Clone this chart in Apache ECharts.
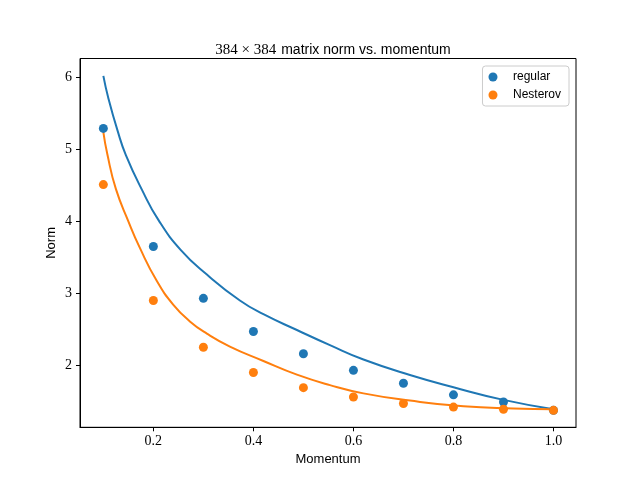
<!DOCTYPE html>
<html>
<head>
<meta charset="utf-8">
<script src="https://cdn.jsdelivr.net/npm/echarts/dist/echarts.min.js"></script>
<style>
  html, body { margin: 0; padding: 0; background: #fff; }
  #main { width: 640px; height: 480px; }
</style>
</head>
<body>
<div id="main"></div>
<script>
// measured points
var momentum = [0.1, 0.2, 0.3, 0.4, 0.5, 0.6, 0.7, 0.8, 0.9, 1.0];
var regularNorm = [5.29, 3.65, 2.93, 2.47, 2.16, 1.93, 1.75, 1.59, 1.49, 1.375];
var nesterovNorm = [4.51, 2.90, 2.25, 1.90, 1.69, 1.56, 1.47, 1.42, 1.39, 1.375];

// fitted curves
var regularFitX = [0.1, 0.11, 0.129, 0.145, 0.177, 0.21, 0.255, 0.307, 0.373, 0.42, 0.487, 0.553, 0.62, 0.713, 0.8, 0.9, 1.0];
var regularFitY = [6.02, 5.71, 5.245, 4.92, 4.44, 4.02, 3.60, 3.26, 2.90, 2.71, 2.49, 2.28, 2.08, 1.865, 1.695, 1.52, 1.39];
var nesterovFitX = [0.1, 0.108, 0.125, 0.15, 0.173, 0.207, 0.24, 0.273, 0.307, 0.353, 0.42, 0.487, 0.553, 0.62, 0.713, 0.82, 0.92, 1.0];
var nesterovFitY = [5.24, 4.93, 4.45, 4.00, 3.63, 3.17, 2.84, 2.61, 2.44, 2.26, 2.06, 1.87, 1.725, 1.61, 1.51, 1.43, 1.40, 1.39];

var xTicks = [0.2, 0.4, 0.6, 0.8, 1.0];
var yTicks = [2, 3, 4, 5, 6];

function pairs(xs, ys) {
    var out = [];
    for (var i = 0; i < xs.length; i++) {
        out.push([xs[i], ys[i]]);
    }
    return out;
}

var blue = '#1f77b4';
var orange = '#ff7f0e';
var serif = '"Liberation Serif", "DejaVu Serif", serif';
var sans = '"Liberation Sans", "DejaVu Sans", sans-serif';

var myChart = echarts.init(document.getElementById('main'));
var option = {
    animation: false,
    backgroundColor: '#fff',
    title: {
        text: '{m|384 × 384} {s|matrix norm vs. momentum}',
        left: 328,
        textAlign: 'center',
        top: 36,
        textStyle: {
            fontWeight: 'normal',
            rich: {
                m: { fontFamily: serif, fontSize: 15, fontWeight: 'normal', color: '#000' },
                s: { fontFamily: sans, fontSize: 14, fontWeight: 'normal', color: '#000' }
            }
        }
    },
    legend: {
        orient: 'vertical',
        right: 71,
        top: 66,
        padding: [5, 8, 5, 6],
        itemGap: 6,
        itemWidth: 26,
        itemHeight: 9,
        icon: 'circle',
        borderColor: '#cccccc',
        borderWidth: 1,
        borderRadius: 3,
        backgroundColor: '#fff',
        textStyle: { fontFamily: sans, fontSize: 12, color: '#000', padding: [0, 0, 0, 2] },
        data: ['regular', 'Nesterov']
    },
    grid: {
        left: 80,
        right: 64,
        top: 58.5,
        bottom: 52.7,
        show: true,
        borderColor: '#000',
        borderWidth: 1,
        containLabel: false,
        outerBoundsMode: 'none'
    },
    xAxis: {
        type: 'value',
        min: 0.0533,
        max: 1.045,
        name: 'Momentum',
        nameLocation: 'middle',
        nameGap: 26,
        nameMoveOverlap: false,
        nameTextStyle: { fontFamily: sans, fontSize: 13, color: '#000' },
        splitLine: { show: false },
        axisLine: { show: true, lineStyle: { color: '#000', width: 1 } },
        axisTick: { show: true, length: 4, lineStyle: { color: '#000' }, customValues: xTicks },
        axisLabel: {
            customValues: xTicks,
            margin: 7,
            fontFamily: serif,
            fontSize: 14,
            color: '#000',
            formatter: function (v) { return v.toFixed(1); }
        }
    },
    yAxis: {
        type: 'value',
        min: 1.139,
        max: 6.261,
        name: 'Norm',
        nameLocation: 'middle',
        nameGap: 22,
        nameMoveOverlap: false,
        nameTextStyle: { fontFamily: sans, fontSize: 13, color: '#000' },
        splitLine: { show: false },
        axisLine: { show: true, lineStyle: { color: '#000', width: 1 } },
        axisTick: { show: true, length: 4, lineStyle: { color: '#000' }, customValues: yTicks },
        axisLabel: {
            customValues: yTicks,
            margin: 8,
            fontFamily: serif,
            fontSize: 14,
            color: '#000',
            formatter: function (v) { return String(v); }
        }
    },
    series: [
        {
            name: 'regular fit',
            type: 'line',
            data: pairs(regularFitX, regularFitY),
            smooth: 0.5,
            showSymbol: false,
            lineStyle: { color: blue, width: 2 },
            z: 1
        },
        {
            name: 'Nesterov fit',
            type: 'line',
            data: pairs(nesterovFitX, nesterovFitY),
            smooth: 0.5,
            showSymbol: false,
            lineStyle: { color: orange, width: 2 },
            z: 1
        },
        {
            name: 'regular',
            type: 'scatter',
            data: pairs(momentum, regularNorm),
            symbolSize: 9,
            itemStyle: { color: blue, opacity: 1 },
            z: 3
        },
        {
            name: 'Nesterov',
            type: 'scatter',
            data: pairs(momentum, nesterovNorm),
            symbolSize: 9,
            itemStyle: { color: orange, opacity: 1 },
            z: 4
        }
    ]
};
myChart.setOption(option);
</script>
</body>
</html>
